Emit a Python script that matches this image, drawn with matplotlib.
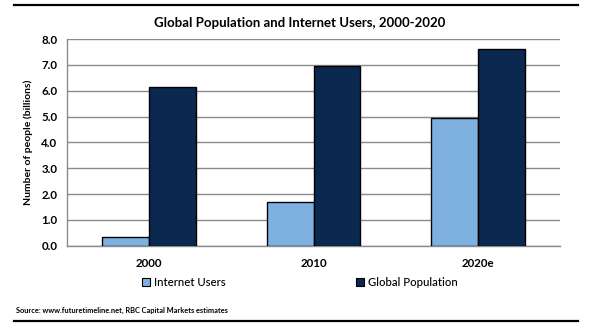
import matplotlib
matplotlib.use("Agg")
import matplotlib.pyplot as plt
from matplotlib.lines import Line2D
from matplotlib.patches import Patch
import numpy as np

plt.rcParams['font.family'] = ['Lato', 'DejaVu Sans']

years = ["2000", "2010", "2020e"]
internet_users = [0.35, 1.7, 4.95]
global_population = [6.14, 6.95, 7.6]
y_ticks = [0.0, 1.0, 2.0, 3.0, 4.0, 5.0, 6.0, 7.0, 8.0]

light_blue = "#7FB1E0"
navy = "#0B2850"

fig = plt.figure(figsize=(6.0, 3.32), dpi=100)
ax = fig.add_axes([0.1117, 0.26, 0.8216, 0.6225])

x = np.arange(len(years))
w = 0.285
ax.bar(x - w / 2, internet_users, w, color=light_blue, edgecolor="black", linewidth=1.0, zorder=3)
ax.bar(x + w / 2, global_population, w, color=navy, edgecolor="black", linewidth=1.0, zorder=3)

ax.set_xlim(-0.5, 2.5)
ax.set_ylim(0, 8)
ax.set_yticks(y_ticks)
ax.set_yticklabels([f"{v:.1f}" for v in y_ticks], fontsize=8.3, fontweight="bold")
ax.set_xticks(x)
ax.set_xticklabels(years, fontsize=8.3, fontweight="bold")
ax.tick_params(axis="both", length=0, pad=7)
ax.tick_params(axis="x", pad=9)
ax.yaxis.grid(True, color="#8a8a8a", linewidth=1.0, zorder=0)
ax.set_axisbelow(True)
for side in ("top", "right"):
    ax.spines[side].set_visible(False)
for side in ("left", "bottom"):
    ax.spines[side].set_color("#8a8a8a")
    ax.spines[side].set_linewidth(1.0)

ax.set_ylabel("Number of people (billions)", fontsize=7.5, fontweight="bold", labelpad=6)

fig.text(0.5, 1 - 23 / 332, "Global Population and Internet Users, 2000-2020",
         ha="center", va="center", fontsize=9.5, fontweight="bold")

handles = [Patch(facecolor=light_blue, edgecolor="black", linewidth=0.8),
           Patch(facecolor=navy, edgecolor="black", linewidth=0.8)]
fig.legend(handles, ["Internet Users", "Global Population"], loc="center",
           bbox_to_anchor=(0.5, 1 - 282 / 332), ncol=2, frameon=False,
           fontsize=8.2, handlelength=0.7, handleheight=0.7, handletextpad=0.3,
           columnspacing=11.5, prop={"weight": "medium", "size": 8.2})

fig.text(16 / 600, 1 - 310 / 332, "Source: www.futuretimeline.net, RBC Capital Markets estimates",
         ha="left", va="center", fontsize=5.3, fontweight="bold")

for yy in (5, 321):
    fig.add_artist(Line2D([14 / 600, 578 / 600], [1 - yy / 332, 1 - yy / 332],
                          color="black", linewidth=1.6, transform=fig.transFigure))

fig.savefig("out.png", dpi=100)
